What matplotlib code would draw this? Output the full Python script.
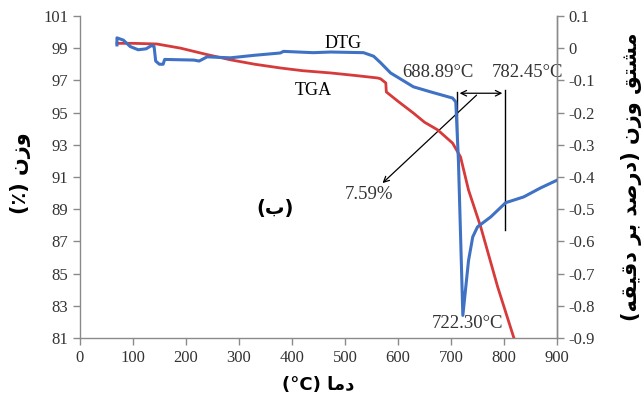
import numpy as np
import matplotlib
matplotlib.use("Agg")
import matplotlib.pyplot as plt
from matplotlib.ticker import FuncFormatter

# TGA curve: temperature (C) and weight (%)
tga_temp = [70, 100, 145, 190, 240, 285, 330, 378, 420, 473, 520, 561, 567, 577,
            578, 600, 629, 650, 675, 703, 718, 733, 756, 788, 818, 822]
tga_weight = [99.3, 99.3, 99.26, 99.0, 98.6, 98.27, 98.0, 97.77, 97.6, 97.46, 97.3,
              97.15, 97.1, 96.84, 96.28, 95.7, 94.97, 94.4, 93.92, 93.1, 92.24,
              90.19, 87.9, 84.17, 81.06, 80.7]

# DTG curve: temperature (C) and weight derivative (%/min)
dtg_temp = [70, 70, 82, 95, 110, 125, 135, 140, 143, 150, 157, 160, 215, 225, 240,
            284, 330, 378, 384, 440, 473, 535, 554, 567, 586, 629, 662, 703, 709,
            714, 722.3, 733, 741, 750, 775, 803, 837, 869, 900]
dtg_value = [0.01, 0.032, 0.025, 0.005, -0.005, -0.002, 0.008, 0.005, -0.04, -0.05,
             -0.05, -0.035, -0.037, -0.04, -0.027, -0.03, -0.022, -0.015, -0.01,
             -0.014, -0.012, -0.014, -0.025, -0.045, -0.077, -0.12, -0.136, -0.155,
             -0.167, -0.35, -0.83, -0.66, -0.586, -0.555, -0.524, -0.48, -0.462,
             -0.434, -0.41]

x_ticks = list(range(0, 901, 100))
left_ticks = list(range(81, 102, 2))
right_ticks = [round(v, 1) for v in np.arange(-0.9, 0.11, 0.1)]

# peak / onset temperatures
t_onset, t_end, t_peak = 688.89, 782.45, 722.30
loss_label = "7.59%"

# Persian labels written in visual order with presentation forms
fa_weight = "\uFEE5\uFEAF\uFEED"              # وزن
fa_temp = "\uFE8E\uFEE3\uFEA9"                # دما
fa_deriv = "\uFED6\uFE98\uFEB8\uFEE3"         # مشتق
fa_percent = "\uFEAA\uFEBB\uFEAD\uFEA9"       # درصد
fa_per = "\uFEAE\uFE91"                       # بر
fa_minute = "\uFEEA\uFED8\uFEF4\uFED7\uFEA9"  # دقیقه
fa_b = "\uFE8F"                               # ب

red = "#d63a3a"
blue = "#3f72c4"
grey = "#8a8a8a"
txt = "#333333"
serif = "Liberation Serif"

fig = plt.figure(figsize=(6.44, 3.99), dpi=100)
ax = fig.add_axes([0.124, 0.153, 0.741, 0.807])
ax2 = ax.twinx()

ax.plot(tga_temp, tga_weight, color=red, lw=2.0, zorder=3)
ax2.plot(dtg_temp, dtg_value, color=blue, lw=2.2, zorder=3)

ax.set_xlim(0, 900)
ax.set_ylim(81, 101)
ax2.set_ylim(-0.9, 0.1)
ax.set_xticks(x_ticks)
ax.set_yticks(left_ticks)
ax2.set_yticks(right_ticks)
ax2.yaxis.set_major_formatter(FuncFormatter(lambda v, p: "0" if abs(v) < 1e-9 else f"{v:.1f}"))

for a in (ax, ax2):
    a.spines["top"].set_visible(False)
    for s in ("left", "right", "bottom"):
        a.spines[s].set_color(grey)
        a.spines[s].set_linewidth(1.0)
    a.tick_params(colors=grey, labelcolor=txt, length=5, width=1.0, labelsize=12)
    for lab in a.get_xticklabels() + a.get_yticklabels():
        lab.set_fontfamily(serif)
ax2.spines["left"].set_visible(False)
ax2.spines["bottom"].set_visible(False)

# onset / end markers
ax.plot([711, 711], [96.3, 93.4], color="black", lw=1.0, zorder=2)
ax.plot([802, 802], [96.4, 87.7], color="black", lw=1.0, zorder=2)
ax.annotate("", xy=(711, 96.2), xytext=(802, 96.2),
            arrowprops=dict(arrowstyle="<->", color="black", lw=0.9), zorder=2)
ax.annotate("", xy=(567, 90.5), xytext=(752, 96.2),
            arrowprops=dict(arrowstyle="->", color="black", lw=0.9), zorder=2)

ax.text(497, 99.32, "DTG", family=serif, fontsize=13, color="black", ha="center", va="center")
ax.text(441, 96.4, "TGA", family=serif, fontsize=13, color="black", ha="center", va="center")
ax.text(675, 97.46, f"{t_onset:.2f}\u00b0C", family=serif, fontsize=13.5, color=txt,
        ha="center", va="center")
ax.text(845, 97.46, f"{t_end:.2f}\u00b0C", family=serif, fontsize=13.5, color=txt,
        ha="center", va="center")
ax.text(732, 81.9, f"{t_peak:.2f}\u00b0C", family=serif, fontsize=13.5, color=txt,
        ha="center", va="center")
ax.text(546, 89.9, loss_label, family=serif, fontsize=13.5, color=txt,
        ha="center", va="center")
ax.text(369, 89.07, f"({fa_b})", family="DejaVu Sans", fontsize=14, fontweight="bold",
        color="black", ha="center", va="center")

ax.set_xlabel(f"(\u00b0C) {fa_temp}", family="DejaVu Sans", fontsize=13,
              fontweight="bold", va="center")
ax.set_ylabel(f"(\u066a) {fa_weight}", family="DejaVu Sans", fontsize=15,
              fontweight="bold", va="center")
ax2.set_ylabel(f"({fa_minute} {fa_per} {fa_percent}) {fa_weight} {fa_deriv}",
               family="DejaVu Sans", fontsize=15, fontweight="bold", rotation=90,
               va="center")
ax.xaxis.set_label_coords(0.5, -0.146)
ax.yaxis.set_label_coords(-0.124, 0.512)
ax2.yaxis.set_label_coords(1.157, 0.5)

fig.savefig("out.png", dpi=100)
